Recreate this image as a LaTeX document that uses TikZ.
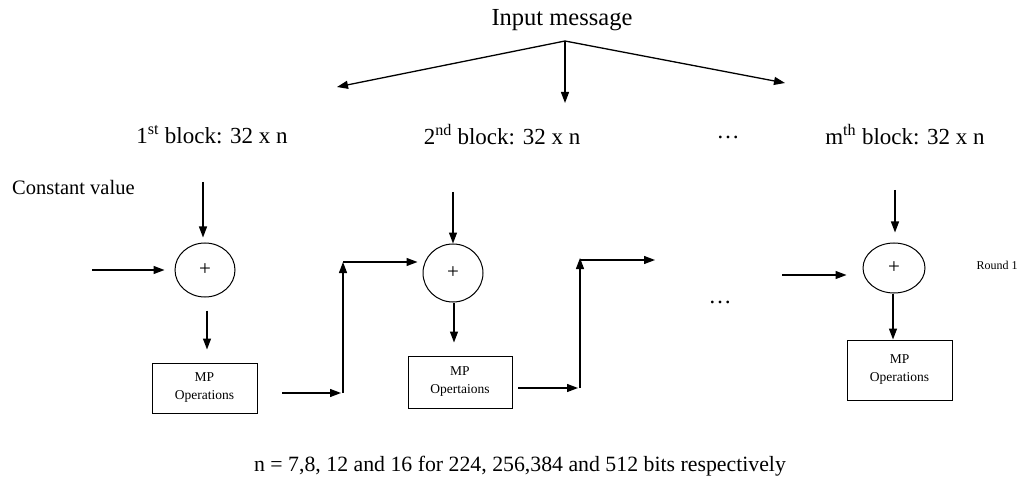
\documentclass[tikz,border=0pt]{standalone}
\usepackage{fontspec}
\setmainfont{Liberation Serif}
\usetikzlibrary{arrows.meta,shapes.geometric}
\begin{document}
\begin{tikzpicture}[x=1pt,y=-1pt,
 conn/.style={line width=1.3pt,-{Triangle[length=11pt,width=8pt]}},
 sumnode/.style={draw,ellipse,line width=1pt,inner sep=0pt,font=\fontsize{21}{22}\selectfont},
 mpbox/.style={draw,line width=1pt,inner sep=0pt,align=center,font=\fontsize{13.5}{18}\selectfont},
 lbl/.style={inner sep=0pt,font=\fontsize{23}{27}\selectfont}]
\useasboundingbox (0,0) rectangle (1029,484);
% title
\node[inner sep=0pt,font=\fontsize{24.5}{29}\selectfont] (im) at (562,20) {Input message};
\coordinate (src) at (565,41);
\coordinate (tl) at (337,87);
\coordinate (tm) at (565,103);
\coordinate (tr) at (785,83);
\draw[conn] (src) -- (tl);
\draw[conn] (src) -- (tm);
\draw[conn] (src) -- (tr);
% block labels
\node[lbl] (b1) at (212,135) {1\textsuperscript{st} block: 32 x n};
\node[lbl] (b2) at (502,135) {2\textsuperscript{nd} block: 32 x n};
\node[lbl] (bd) at (728,137) {\dots};
\node[lbl] (bm) at (905,135) {m\textsuperscript{th} block: 32 x n};
\node[inner sep=0pt,anchor=west,font=\fontsize{20.5}{24}\selectfont] (cv) at (12,187) {Constant value};
% nodes
\node[sumnode,minimum width=60,minimum height=54] (c1) at (205,270) {+};
\node[mpbox,minimum width=105,minimum height=50] (m1) at (204.5,388) {MP\\Operations};
\node[sumnode,minimum width=60,minimum height=58] (c2) at (453,273) {+};
\node[mpbox,minimum width=104,minimum height=52] (m2) at (460,382) {MP\\Opertaions};
\node[sumnode,minimum width=62,minimum height=50] (c3) at (894,268) {+};
\node[mpbox,minimum width=105,minimum height=60] (m3) at (899.5,370) {MP\\Operations};
\node[lbl] (ld) at (720,302) {\dots};
\node[inner sep=0pt,font=\fontsize{12}{14}\selectfont] (r1) at (997,265) {Round 1};
% stage 1
\coordinate (a1) at (203,182);
\coordinate (in1) at (92,270);
\draw[conn,shorten >=5pt] (a1) -- (a1 |- c1.north);
\draw[conn,shorten >=10pt] (in1) -- (c1.west);
\draw[conn,shorten <=13pt,shorten >=13pt] (c1.south -| 207,0) -- (m1.north -| 207,0);
\coordinate (o1) at (282,393);
\coordinate (k1) at (343,393);
\coordinate (u1) at (343,262);
\draw[conn,shorten >=2pt] (o1) -- (k1);
\draw[conn] (k1) -- (u1);
\draw[conn,shorten >=5pt] (u1) -- (c2.west |- u1);
% stage 2
\coordinate (a2) at (453,192);
\draw[conn] (a2) -- (c2.north);
\draw[conn,shorten >=13pt] (c2.south -| 454,0) -- (m2.north -| 454,0);
\coordinate (o2) at (518,388);
\coordinate (k2) at (580,388);
\coordinate (u2) at (580,258);
\coordinate (e2) at (655,260);
\draw[conn,shorten >=2pt] (o2) -- (k2);
\draw[conn] (k2) -- (u2);
\draw[conn] (u2 |- e2) -- (e2);
% stage m
\coordinate (a3) at (895,190);
\coordinate (in3) at (782,275);
\draw[conn,shorten >=10pt] (a3) -- (a3 |- c3.north);
\draw[conn,shorten >=16pt] (in3) -- (c3.west |- in3);
\draw[conn] (c3.south -| 893,0) -- (m3.north -| 893,0);
% bottom
\node[inner sep=0pt,font=\fontsize{21.8}{26}\selectfont] (note) at (520,466) {n = 7,8, 12 and 16 for 224, 256,384 and 512 bits respectively};
\end{tikzpicture}
\end{document}
